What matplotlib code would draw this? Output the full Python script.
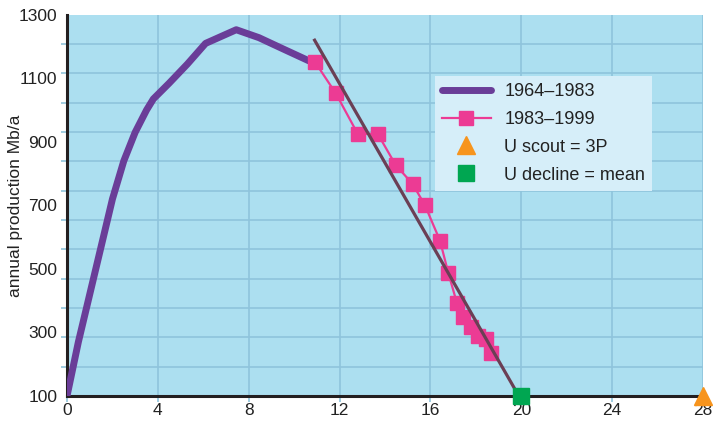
import numpy as np
import matplotlib.pyplot as plt
from matplotlib.ticker import FixedLocator

plt.rcParams['font.family'] = ['Liberation Sans', 'DejaVu Sans']

# 1964-1983 production (cumulative Gb, Mb/a)
hist_x = [0, 0.5, 1.0, 1.5, 2.0, 2.5, 3.0, 3.5, 3.8, 4.5, 5.3, 6.1, 7.45, 8.45, 9.5, 10.65]
hist_y = [100, 270, 420, 570, 720, 840, 930, 1000, 1035, 1085, 1145, 1210, 1253, 1228, 1193, 1155]

# 1983-1999 production
recent_x = [10.93, 11.83, 12.8, 13.68, 14.47, 15.22, 15.76, 16.42, 16.79, 17.16, 17.45, 17.79, 18.08, 18.43, 18.65]
recent_y = [1150, 1053, 925, 925, 827, 767, 700, 589, 486, 394, 349, 318, 289, 280, 236]

# linear decline fit
fit_x = [10.9, 19.85]
fit_y = [1220, 105]

scout_x, scout_y = 28, 100
decline_x, decline_y = 20, 100

x_ticks = [0, 4, 8, 12, 16, 20, 24, 28]
y_ticks = [100, 300, 500, 700, 900, 1100, 1300]

fig = plt.figure(figsize=(7.13, 4.23), dpi=100)
ax = fig.add_axes([0.094, 0.064, 0.892, 0.901])
ax.set_facecolor('#acdff0')

grid_col = '#8fc4dc'
ax.set_xlim(0, 28)
ax.set_ylim(100, 1300)

# labels every 200, grid split in 13 parts (as in the source chart)
ax.set_yticks(y_ticks)
ax.yaxis.set_minor_locator(FixedLocator(np.linspace(100, 1300, 14)))
ax.set_xticks(x_ticks)
ax.tick_params(axis='y', which='major', length=0, pad=7, labelsize=12.5, colors='#222222')
ax.tick_params(axis='y', which='minor', length=4, width=1.2, color=grid_col)
ax.tick_params(axis='x', which='major', length=4, width=1.2, color=grid_col, pad=1,
               labelsize=12.5, labelcolor='#222222')
ax.grid(True, which='minor', axis='y', color=grid_col, linewidth=1.2)
ax.grid(True, which='major', axis='x', color=grid_col, linewidth=1.2)
ax.set_axisbelow(True)

for s in ['top', 'right']:
    ax.spines[s].set_visible(False)
for s in ['left', 'bottom']:
    ax.spines[s].set_linewidth(2.2)
    ax.spines[s].set_color('#231f20')
    ax.spines[s].set_zorder(2.5)

ax.plot(hist_x, hist_y, color='#6a3d98', linewidth=5, solid_capstyle='round',
        solid_joinstyle='round', label='1964\u20131983', zorder=4)
ax.plot(recent_x, recent_y, color='#ec3b94', linewidth=1.6, marker='s', markersize=9.5,
        label='1983\u20131999', zorder=5)
ax.plot(fit_x, fit_y, color='#6b3f55', linewidth=2.3, zorder=6)
ax.plot(scout_x, scout_y, marker='^', color='#f7941d', markersize=13, linestyle='none',
        clip_on=False, label='U scout = 3P', zorder=7)
ax.plot(decline_x, decline_y, marker='s', color='#00a651', markersize=12, linestyle='none',
        clip_on=False, label='U decline = mean', zorder=7)

ax.set_ylabel('annual production Mb/a', fontsize=12.5, color='#222222')
ax.yaxis.set_label_coords(-0.07, 0.5)

leg = ax.legend(loc='upper left', bbox_to_anchor=(0.578, 0.84), frameon=True, fancybox=False,
                fontsize=13, handlelength=2.7, borderpad=0.4, labelspacing=0.6,
                handletextpad=0.75, borderaxespad=0)
leg.get_frame().set_facecolor('#d6eef9')
leg.get_frame().set_edgecolor('none')
leg.get_frame().set_alpha(1)
for t in leg.get_texts():
    t.set_color('#222222')

plt.savefig('out.png', dpi=100)
